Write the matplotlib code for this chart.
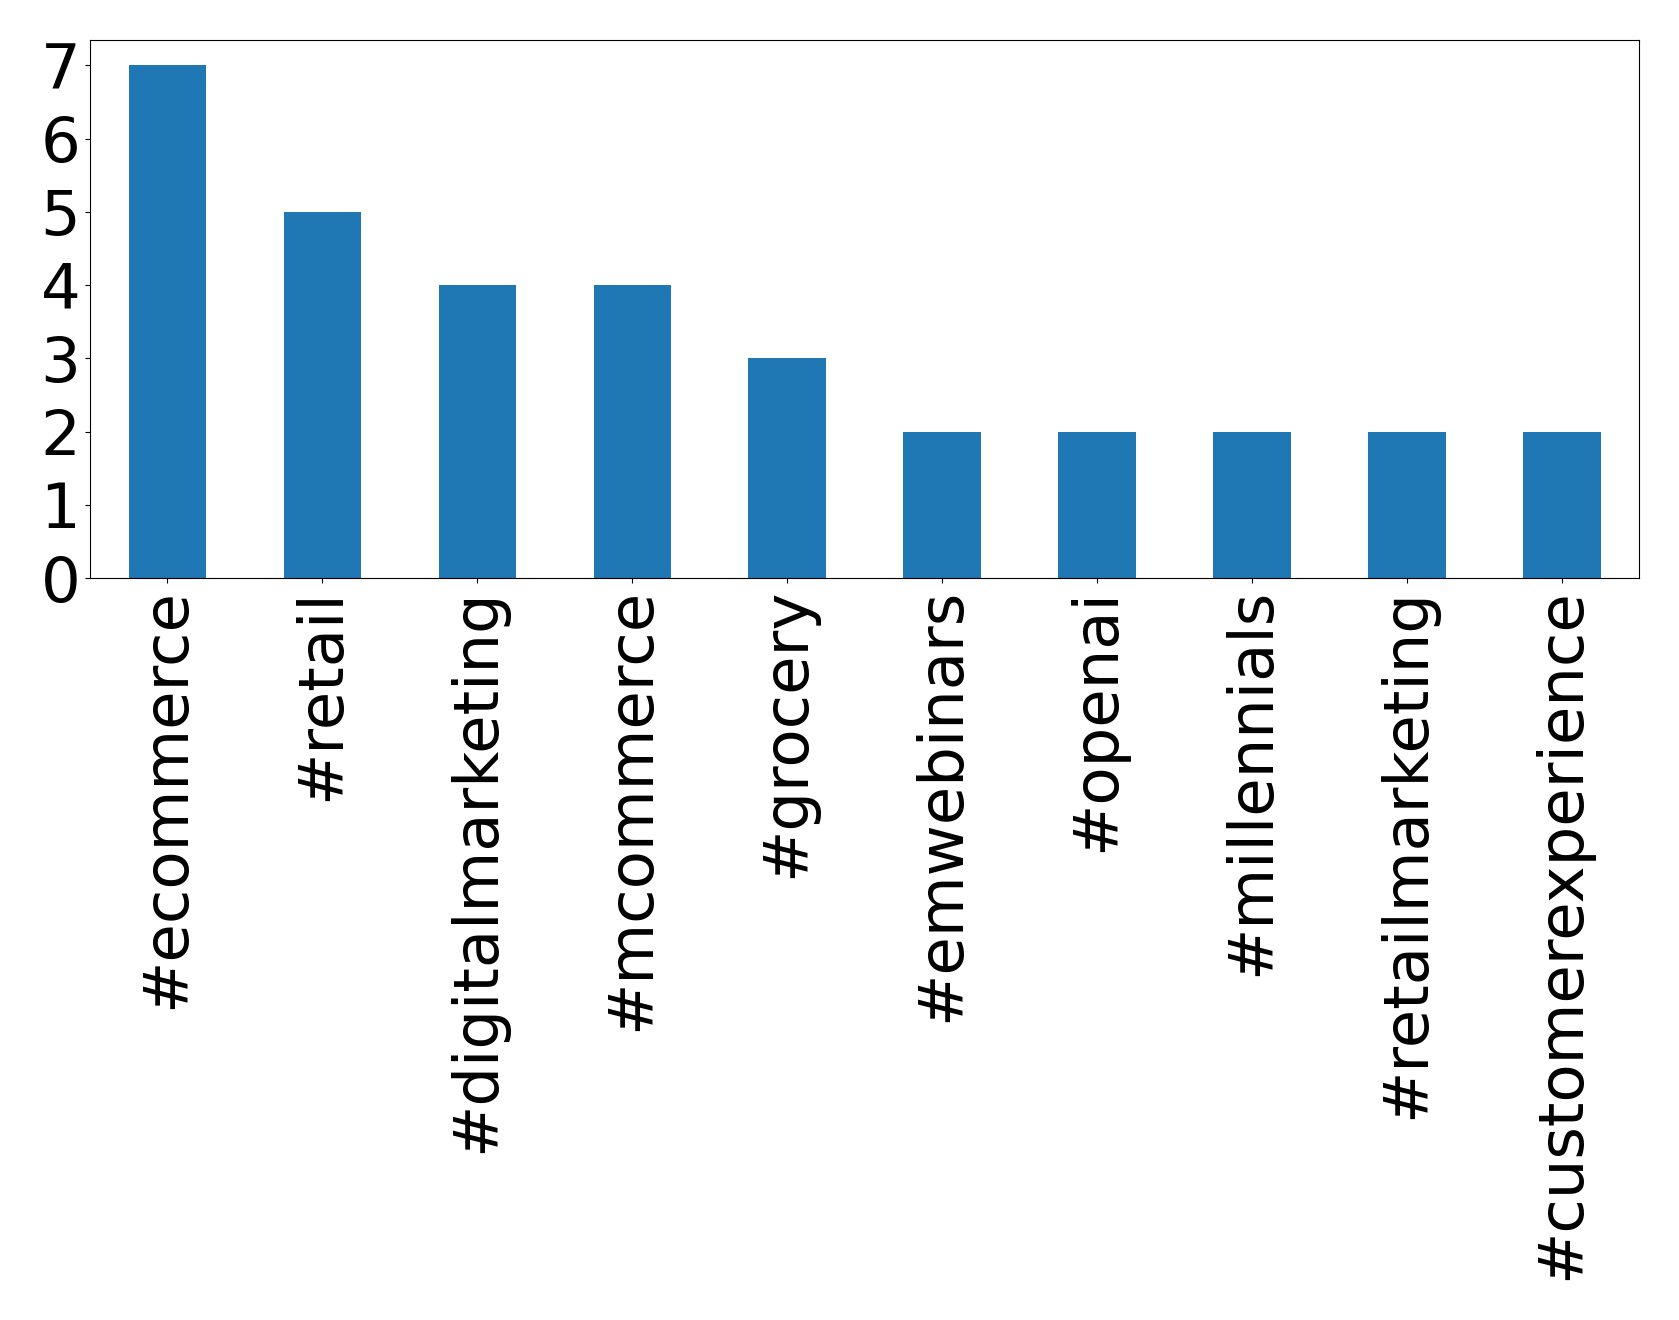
import matplotlib
matplotlib.use('Agg')
import matplotlib.pyplot as plt

hashtags = ['#ecommerce', '#retail', '#digitalmarketing', '#mcommerce', '#grocery',
            '#emwebinars', '#openai', '#millennials', '#retailmarketing',
            '#customerexperience']
counts = [7, 5, 4, 4, 3, 2, 2, 2, 2, 2]

fig = plt.figure(figsize=(16.79, 13.2), dpi=100)
ax = fig.add_axes([0.0536, 0.562, 0.9228, 0.408])
x = range(len(hashtags))
ax.bar(x, counts, width=0.5, color='#1f77b4')
ax.set_xlim(-0.5, len(hashtags) - 0.5)
ax.set_xticks(list(x))
ax.set_xticklabels(hashtags, rotation=90, fontsize=45)
ax.tick_params(axis='y', labelsize=45)
ax.set_yticks(range(0, 8))

fig.savefig('out.png', dpi=100)
